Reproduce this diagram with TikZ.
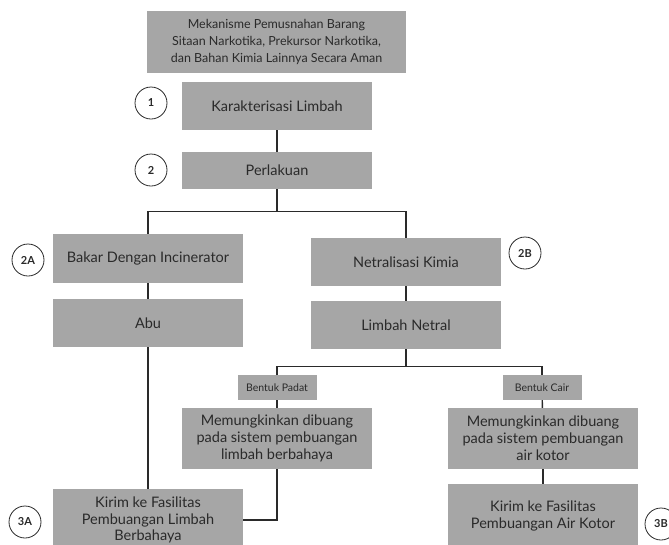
\documentclass[tikz,border=0pt]{standalone}
\usepackage{fontspec}
\setmainfont{Lato}
\definecolor{boxgray}{HTML}{A6A6A6}
\definecolor{inkdark}{HTML}{2A2A2A}
\tikzset{
  box/.style={fill=boxgray,text=inkdark,align=center,inner sep=0pt,minimum width=190pt,font=\fontsize{14.5}{16.8}\selectfont},
  tagbox/.style={fill=boxgray,text=inkdark,inner sep=0pt,minimum width=79pt,minimum height=25pt,font=\fontsize{10.5}{11}\selectfont},
  badge/.style={circle,draw=inkdark,fill=white,line width=.8pt,minimum size=32pt,inner sep=0pt,text=inkdark,font=\bfseries\fontsize{11}{11}\selectfont},
  link/.style={draw=inkdark,line width=1.4pt}
}
\begin{document}
\begin{tikzpicture}[x=1pt,y=-1pt]
  \useasboundingbox (0,0) rectangle (669,544);
  % top of the chart
  \node[box,minimum width=259pt,minimum height=62pt,font=\fontsize{12.5}{17}\selectfont] (judul) at (276.5,42) {Mekanisme Pemusnahan Barang\\Sitaan Narkotika, Prekursor Narkotika,\\dan Bahan Kimia Lainnya Secara Aman};
  \node[box,minimum height=48pt] (karak) at (277,106) {Karakterisasi Limbah};
  \node[box,minimum height=37pt] (perlakuan) at (277,170.5) {Perlakuan};
  \node[badge] (n1) at (151,103) {1};
  \node[badge] (n2) at (151,170) {2};
  % left branch
  \node[box,minimum height=49pt] (bakar) at (148,258.5) {Bakar Dengan Incinerator};
  \node[box,minimum height=48pt] (abu) at (148,323) {Abu};
  \node[badge] (n2a) at (28,260) {2A};
  % right branch
  \node[box,minimum height=48pt] (netral) at (406,262) {Netralisasi Kimia};
  \node[box,minimum height=48pt] (limnet) at (406,325) {Limbah Netral};
  \node[badge] (n2b) at (525,253) {2B};
  % forms
  \node[tagbox] (padat) at (277,387.5) {Bentuk Padat};
  \node[tagbox] (cair) at (542,387.5) {Bentuk Cair};
  \node[box,minimum height=61pt] (mpadat) at (277,438.5) {Memungkinkan dibuang\\pada sistem pembuangan\\limbah berbahaya};
  \node[box,minimum height=61pt] (mcair) at (543,438.5) {Memungkinkan dibuang\\pada sistem pembuangan\\air kotor};
  % final step
  \node[box,minimum height=62pt] (kpadat) at (148,520) {Kirim ke Fasilitas\\Pembuangan Limbah\\Berbahaya};
  \node[box,minimum height=64pt] (kcair) at (543,516) {Kirim ke Fasilitas\\Pembuangan Air Kotor};
  \node[badge] (n3a) at (25,522) {3A};
  \node[badge] (n3b) at (661,524) {3B};
  % connectors
  \draw[link] (karak) -- (perlakuan);
  \draw[link] (perlakuan.south) -- ++(0,22) coordinate (cab1);
  \draw[link] (bakar.north) |- (cab1) -| (netral.north);
  \draw[link] (bakar) -- (abu);
  \draw[link] (abu) -- (kpadat);
  \draw[link] (netral) -- (limnet);
  \draw[link] (limnet.south) -- ++(0,17) coordinate (cab2);
  \draw[link] (padat.north) |- (cab2) -| (cair.north);
  \draw[link] (padat) -- (mpadat);
  \draw[link] (cair) -- (mcair);
  \draw[link] (mcair) -- (kcair);
  \draw[link] (mpadat.south) |- (kpadat.east);
\end{tikzpicture}
\end{document}
